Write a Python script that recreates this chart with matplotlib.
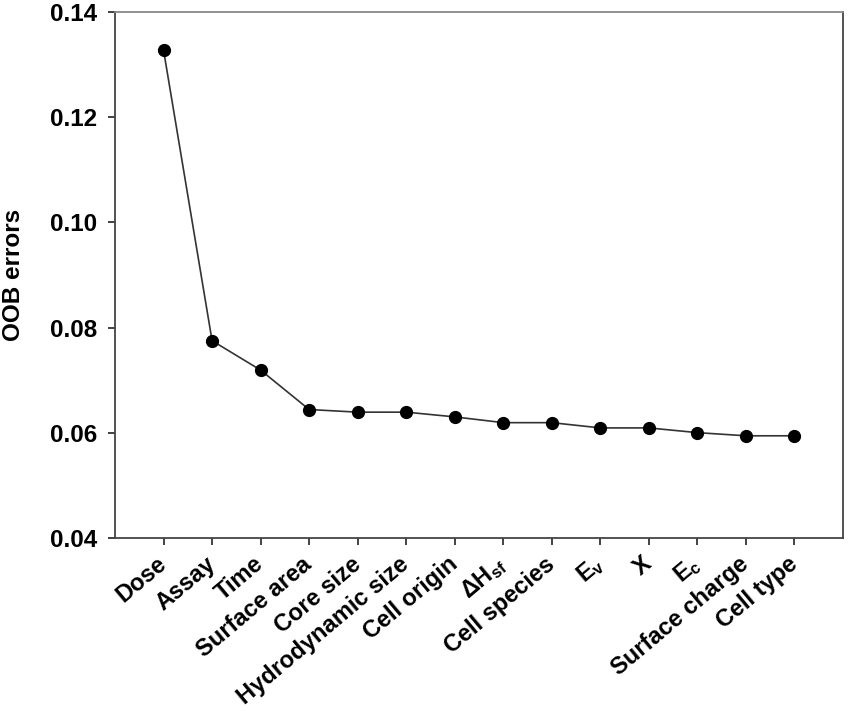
import matplotlib
matplotlib.use("Agg")
import matplotlib.pyplot as plt

plt.rcParams['font.family'] = ['Liberation Sans', 'DejaVu Sans']
plt.rcParams['font.weight'] = 'bold'
plt.rcParams['mathtext.fontset'] = 'custom'
plt.rcParams['mathtext.rm'] = 'Liberation Sans:bold'
plt.rcParams['mathtext.it'] = 'Liberation Sans:bold'
plt.rcParams['mathtext.bf'] = 'Liberation Sans:bold'
plt.rcParams['mathtext.sf'] = 'Liberation Sans:bold'

categories = ["Dose", "Assay", "Time", "Surface area", "Core size",
              "Hydrodynamic size", "Cell origin", r"$\mathbf{\Delta H}_{\mathbf{sf}}$",
              "Cell species", r"$\mathbf{E}_{\mathbf{v}}$", "X", r"$\mathbf{E}_{\mathbf{c}}$",
              "Surface charge", "Cell type"]
oob_errors = [0.1328, 0.0775, 0.0719, 0.0644, 0.0639, 0.0639, 0.0630,
              0.0619, 0.0619, 0.0609, 0.0609, 0.0600, 0.0594, 0.0594]
yticks = [0.04, 0.06, 0.08, 0.10, 0.12, 0.14]
ytick_labels = ["0.04", "0.06", "0.08", "0.10", "0.12", "0.14"]

fig = plt.figure(figsize=(8.5, 7.11), dpi=100)
ax = fig.add_axes([0.1353, 0.2437, 0.9918 - 0.1353, 0.9827 - 0.2437])

x = list(range(len(categories)))
ax.plot(x, oob_errors, color='#333333', linewidth=1.2, marker='o',
        markersize=8.5, markerfacecolor='black', markeredgecolor='black')

ax.set_xlim(-1, len(categories))
ax.set_ylim(0.04, 0.14)
ax.set_yticks(yticks)
ax.set_yticklabels(ytick_labels, fontsize=17.5, fontweight='bold')
ax.set_xticks(x)
ax.set_xticklabels(categories, fontsize=17, fontweight='bold', rotation=40,
                   ha='right', va='center', rotation_mode='anchor')
ax.tick_params(axis='y', direction='out', length=5, width=1.2, pad=8, colors='#222222')
ax.tick_params(axis='x', direction='out', length=5, width=1.2, pad=12, colors='#222222')
for lab in ax.get_xticklabels() + ax.get_yticklabels():
    lab.set_color('black')
for s in ax.spines.values():
    s.set_color('#444444')
    s.set_linewidth(1.3)
ax.spines['top'].set_color('#888888')

ax.set_ylabel("OOB errors", fontsize=17.5, fontweight='bold', labelpad=18)

fig.savefig("out.png", dpi=100)
